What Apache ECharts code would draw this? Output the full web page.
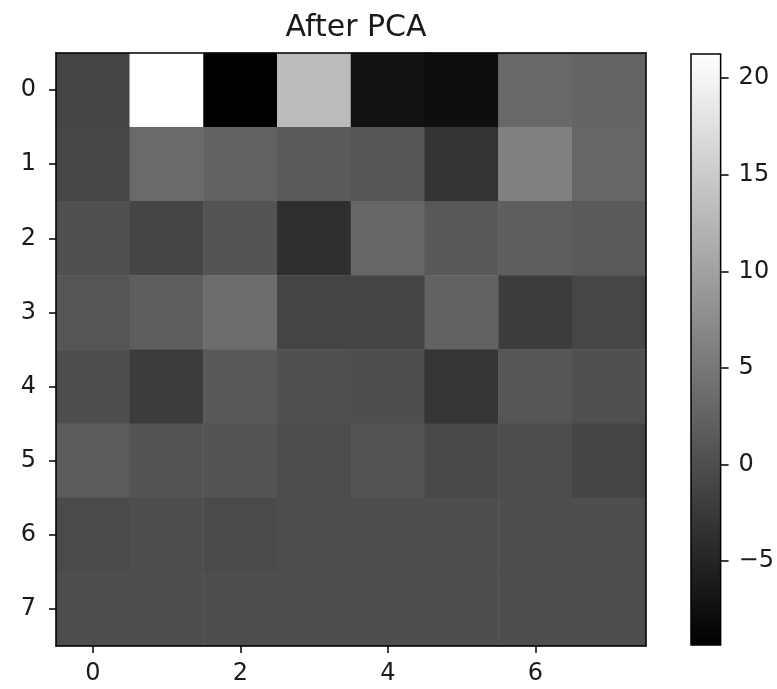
<!DOCTYPE html>
<html>
<head>
<meta charset="utf-8">
<script src="https://cdn.jsdelivr.net/npm/echarts@6/dist/echarts.min.js"></script>
<style>
  html, body { margin: 0; padding: 0; background: #fff; }
  #chart { width: 777px; height: 689px; }
</style>
</head>
<body>
<div id="chart"></div>
<script>
// --- data ---
const colLabels = ['0', '1', '2', '3', '4', '5', '6', '7'];
const rowLabels = ['0', '1', '2', '3', '4', '5', '6', '7'];

const row0 = [-1.2, 21.25, -9.35, 13.1, -7.3, -7.65, 3.1, 2.65];
const row1 = [-0.95, 3.4, 2.4, 1.45, 0.95, -3.2, 6.0, 2.9];
const row2 = [0.25, -1.05, 0.75, -3.7, 2.9, 1.2, 1.9, 1.45];
const row3 = [0.85, 1.9, 3.6, -1.2, -1.2, 2.4, -2.15, -0.95];
const row4 = [0.0, -2.15, 1.2, 0.25, 0.0, -3.0, 0.95, 0.25];
const row5 = [1.7, 0.75, 0.75, -0.25, 0.75, -0.7, -0.25, -1.2];
const row6 = [-0.45, 0.0, -0.45, -0.1, 0.0, 0.0, 0.0, 0.0];
const row7 = [0.0, 0.0, 0.0, 0.0, 0.0, 0.0, 0.0, 0.0];

const colorbarTicks = [-5, 0, 5, 10, 15, 20];

const rows = [row0, row1, row2, row3, row4, row5, row6, row7];
const heatData = [];
rows.forEach((row, r) => row.forEach((v, c) => heatData.push([c, r, v])));
const allVals = rows.flat();
const vMin = Math.min(...allVals);
const vMax = Math.max(...allVals);

const font = 'DejaVu Sans';
const textColor = '#1a1a1a';
const tickSize = 24;

const chart = echarts.init(document.getElementById('chart'), null, { renderer: 'canvas' });

// plain axis used only to draw the top / right spines of the image frame
const frameAxis = (extra) => Object.assign({
    type: 'category',
    z: 5,
    axisLine: { show: true, lineStyle: { color: '#000', width: 1.5 } },
    axisTick: { show: false },
    axisLabel: { show: false },
    splitLine: { show: false }
}, extra);

chart.setOption({
    animation: false,
    backgroundColor: '#fff',
    textStyle: { fontFamily: font },
    title: {
        text: 'After PCA',
        left: 351,
        top: 8,
        textAlign: 'center',
        textStyle: { fontFamily: font, fontSize: 30, fontWeight: 'normal', color: textColor }
    },
    grid: [
        { left: 56, top: 53, width: 590, height: 593 },
        { left: 691, top: 54, width: 31, height: 591 }
    ],
    xAxis: [
        {
            type: 'category', gridIndex: 0, data: colLabels, position: 'bottom', z: 5,
            axisLine: { show: true, lineStyle: { color: '#000', width: 1.5 } },
            axisTick: { show: true, alignWithLabel: true, interval: 1, length: 7, lineStyle: { color: '#000', width: 1.5 } },
            axisLabel: { interval: 1, margin: 16, fontSize: tickSize, color: textColor, fontFamily: font },
            splitLine: { show: false }
        },
        frameAxis({ gridIndex: 0, data: colLabels, position: 'top' }),
        { type: 'category', gridIndex: 1, data: ['cb'], show: false }
    ],
    yAxis: [
        {
            type: 'category', gridIndex: 0, data: rowLabels, inverse: true, position: 'left', z: 5,
            axisLine: { show: true, lineStyle: { color: '#000', width: 1.5 } },
            axisTick: { show: true, alignWithLabel: true, length: 7, lineStyle: { color: '#000', width: 1.5 } },
            axisLabel: { margin: 20, fontSize: tickSize, color: textColor, fontFamily: font },
            splitLine: { show: false }
        },
        frameAxis({ gridIndex: 0, data: rowLabels, inverse: true, position: 'right' }),
        {
            type: 'value', gridIndex: 1, position: 'right', min: vMin, max: vMax,
            axisLine: { show: false },
            axisTick: { show: true, length: 8, customValues: colorbarTicks, lineStyle: { color: '#000', width: 1.5 } },
            axisLabel: {
                margin: 18, fontSize: tickSize, color: textColor, fontFamily: font,
                customValues: colorbarTicks,
                formatter: v => String(v).replace('-', '\u2212')
            },
            splitLine: { show: false }
        }
    ],
    visualMap: {
        show: false,
        type: 'continuous',
        min: vMin,
        max: vMax,
        seriesIndex: 0,
        dimension: 2,
        inRange: { color: ['#000000', '#ffffff'] }
    },
    series: [
        {
            type: 'heatmap',
            xAxisIndex: 0,
            yAxisIndex: 0,
            data: heatData,
            itemStyle: { borderWidth: 0 },
            emphasis: { disabled: true }
        },
        {
            // colorbar: one rect spanning the data range on the colorbar's value axis
            type: 'custom',
            xAxisIndex: 2,
            yAxisIndex: 2,
            data: [[0, vMin, vMax]],
            renderItem: (params, api) => {
                const lo = api.coord([0, api.value(1)]);
                const hi = api.coord([0, api.value(2)]);
                const w = api.size([1, 0])[0];
                return {
                    type: 'rect',
                    shape: { x: lo[0] - w / 2, y: hi[1], width: w, height: lo[1] - hi[1] },
                    style: {
                        fill: new echarts.graphic.LinearGradient(0, 0, 0, 1, [
                            { offset: 0, color: '#ffffff' },
                            { offset: 1, color: '#000000' }
                        ]),
                        stroke: '#000',
                        lineWidth: 1.5
                    }
                };
            }
        }
    ]
});
</script>
</body>
</html>
